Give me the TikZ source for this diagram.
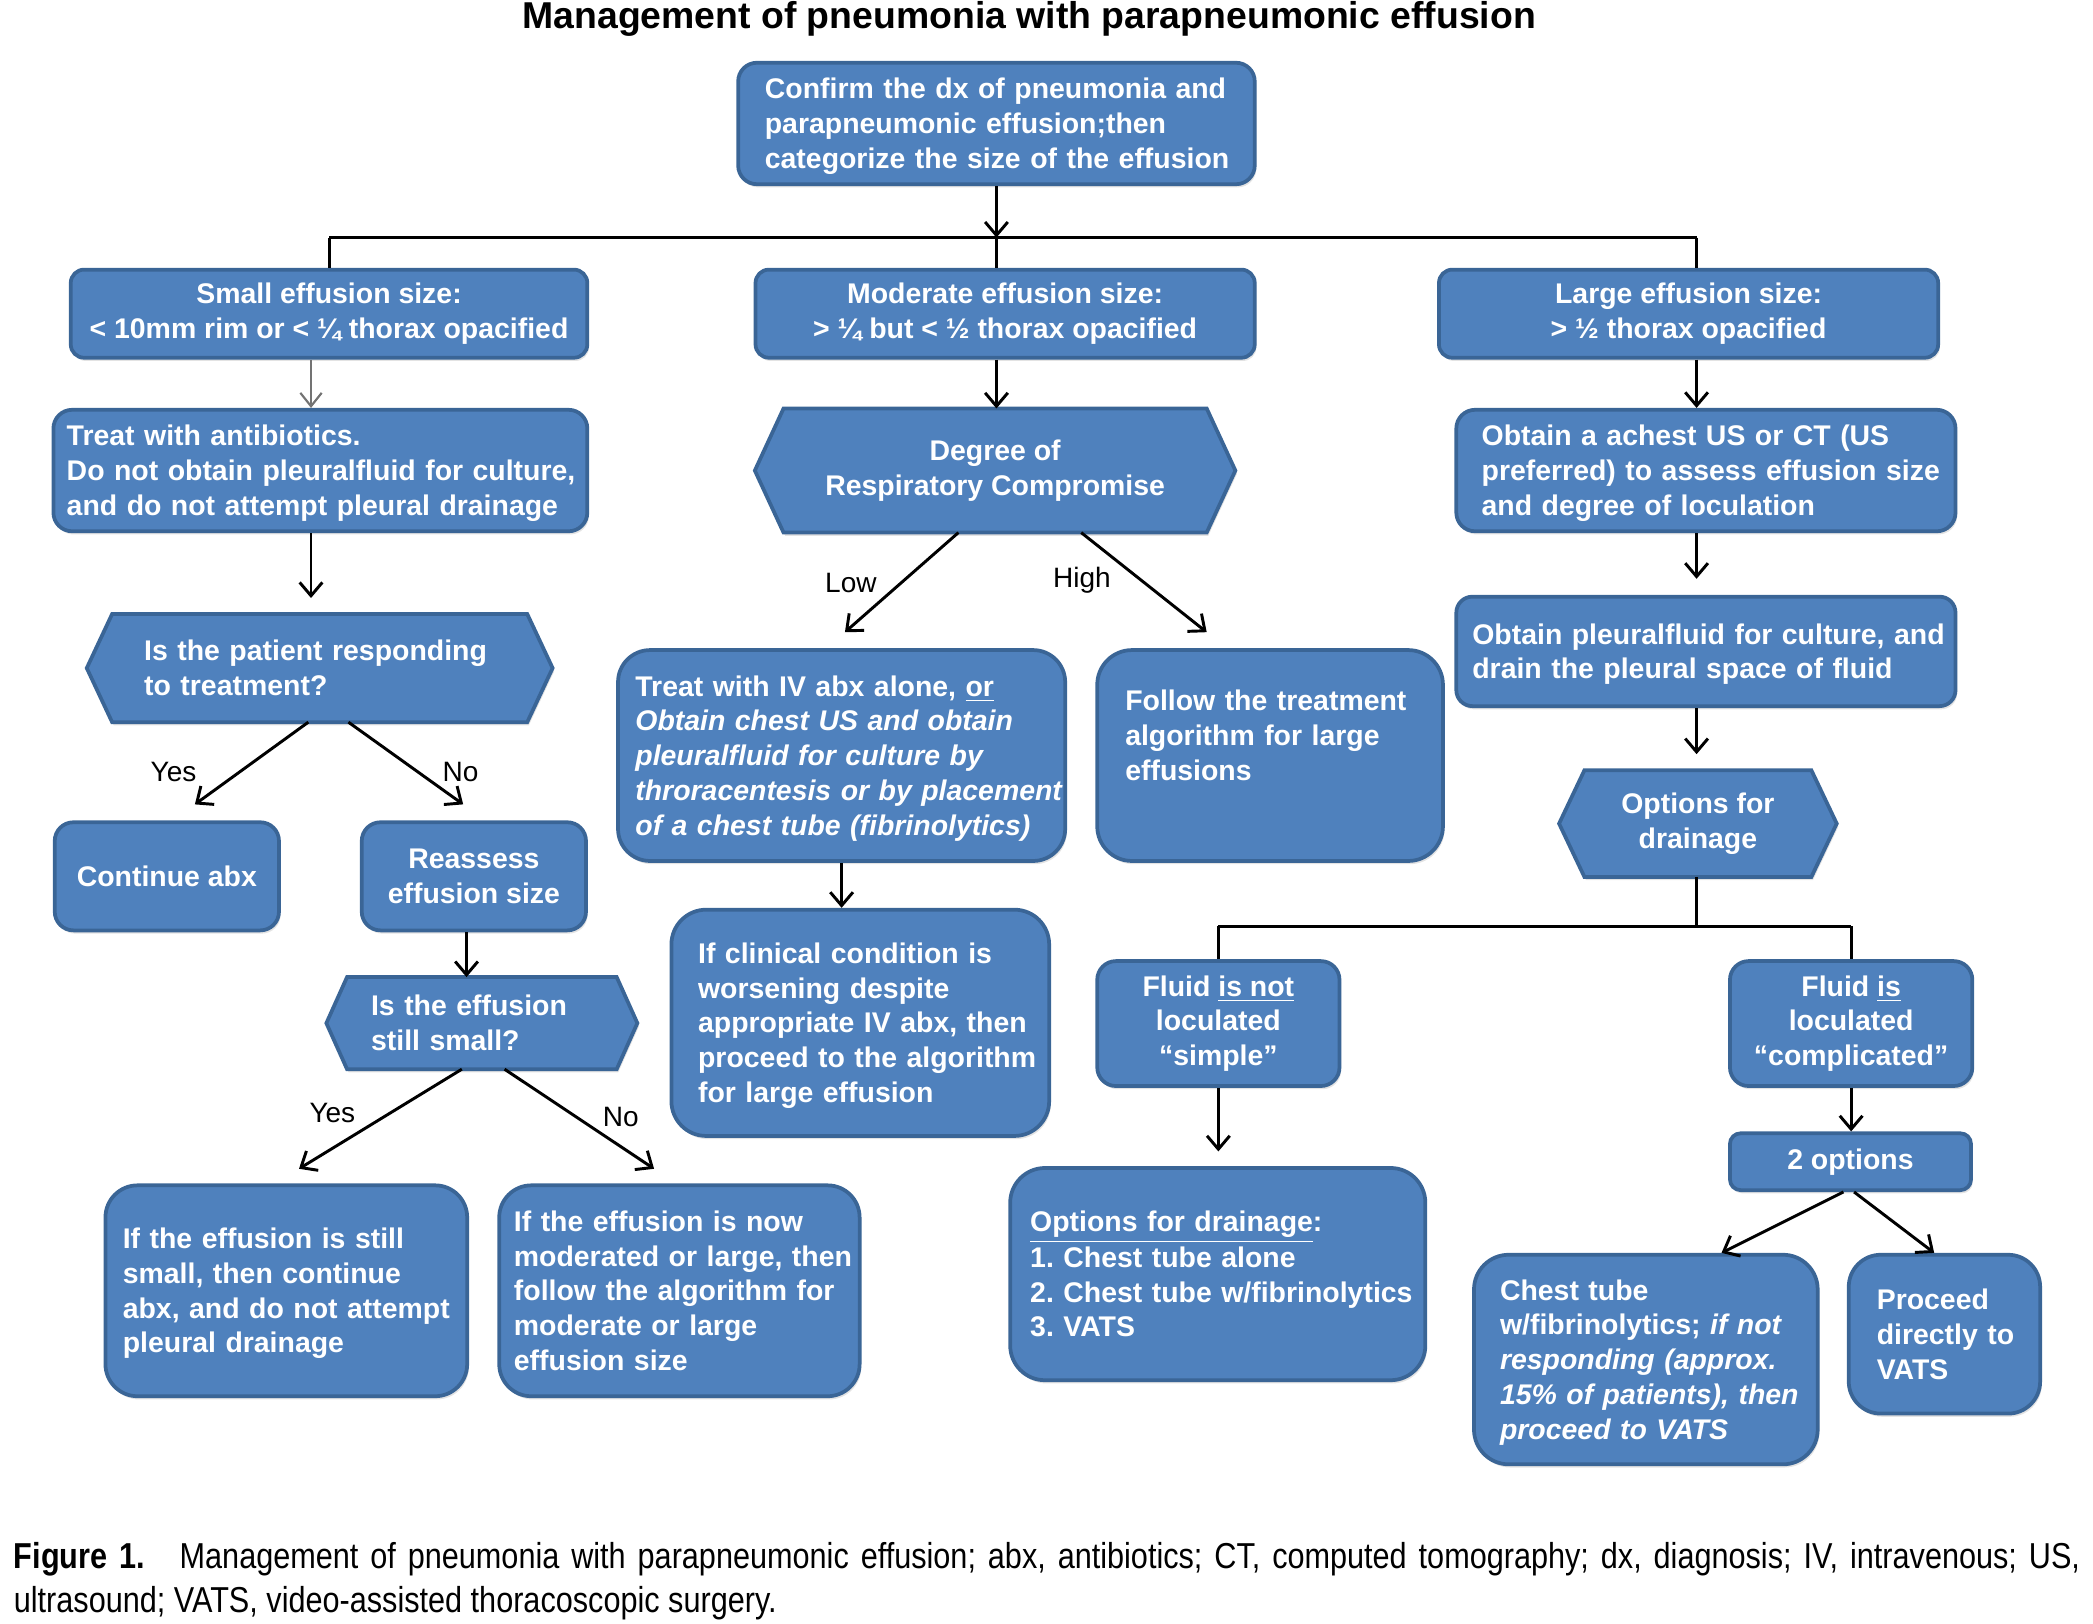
\documentclass[tikz,border=0pt]{standalone}
\usepackage{fontspec}
\setmainfont{Liberation Sans}
\newfontfamily\capfont[FakeStretch=0.85]{Liberation Sans}
\usetikzlibrary{arrows.meta,shadows}
\definecolor{boxfill}{HTML}{4F81BD}
\definecolor{boxline}{HTML}{3A6596}
\pgfdeclarelayer{bg}
\pgfsetlayers{bg,main}
\frenchspacing
\newcommand\LL[1]{\noindent\raisebox{-1.2pt}[\height][\depth]{\begin{tabular}{@{}l@{}}#1\end{tabular}}}
\newcommand\boxfont{\bfseries\fontsize{10.65}{13}\selectfont}
\newcommand\lblfont{\fontsize{10.5}{12}\selectfont}
\newcommand\hexbg[2]{\begin{pgfonlayer}{bg}\path[hexst] (#1.north west) -- (#1.north east) -- ([xshift=#2]#1.east) -- (#1.south east) -- (#1.south west) -- ([xshift=-#2]#1.west) -- cycle;\end{pgfonlayer}}
\begin{document}
\begin{tikzpicture}[x=0.5pt,y=-0.5pt,
  shad/.style={drop shadow={shadow xshift=0.6pt,shadow yshift=-1.2pt,opacity=0.22}},
  box/.style={draw=boxline, fill=boxfill, line width=1.4pt, text=white, font=\boxfont, inner sep=0pt, shad},
  sz/.style n args={3}{minimum width=#1, minimum height=#2, rounded corners=#3},
  lft/.style 2 args={align=left, text width=#1, inner xsep=#2},
  ctr/.style={align=center},
  hexn/.style={text=white, font=\boxfont, inner sep=0pt, outer sep=0pt},
  hexst/.style={draw=boxline, fill=boxfill, line width=1.4pt, shad},
  ln/.style={draw=black, line width=1.1pt},
  arr/.style={ln, -{Straight Barb[length=5pt,width=8.5pt]}},
  garr/.style={draw=black!55, line width=0.8pt, -{Straight Barb[length=5pt,width=8pt]}},
  lbl/.style={font=\lblfont, inner sep=0pt}
]
\useasboundingbox (0,0) rectangle (1568,1216);

% title
\node[font=\bfseries\fontsize{14}{16}\selectfont, anchor=base, inner sep=0pt] (title) at (771,21) {Management of pneumonia with parapneumonic effusion};

% row 1
\node[box, sz={193.5pt}{45.5pt}{7pt}, lft={173.5pt}{10pt}] (top) at (746.5,92.5)
  {\LL{Confirm the dx of pneumonia and\\parapneumonic effusion;then\\categorize the size of the effusion}};
\node[box, sz={193.5pt}{33pt}{5pt}, ctr] (small) at (246.5,235) {Small effusion size:\\< 10mm rim or < ¼ thorax opacified};
\node[box, sz={187pt}{33pt}{5pt}, ctr] (mod) at (753,235) {Moderate effusion size:\\> ¼ but < ½ thorax opacified};
\node[box, sz={187pt}{33pt}{5pt}, ctr] (large) at (1265,235) {Large effusion size:\\> ½ thorax opacified};

% row 2
\node[box, sz={200pt}{45.5pt}{7pt}, lft={190pt}{5pt}] (treat) at (240,352.5)
  {\LL{Treat with antibiotics.\\Do not obtain pleuralfluid for culture,\\and do not attempt pleural drainage}};
\node[hexn, minimum width=158.5pt, minimum height=46.5pt, ctr] (deg) at (745.5,352.5) {Degree of\\Respiratory Compromise};
\hexbg{deg}{10.75pt}
\node[box, sz={187pt}{45.5pt}{7pt}, lft={168pt}{9.5pt}] (obus) at (1278,352.5)
  {\LL{Obtain a achest US or CT (US\\preferred) to assess effusion size\\and degree of loculation}};

% left column
\node[hexn, minimum width=155.5pt, minimum height=40.5pt, lft={131.5pt}{12pt}] (resp) at (239.5,500.5)
  {\LL{Is the patient responding\\to treatment?}};
\hexbg{resp}{9.5pt}
\node[box, sz={84pt}{40.5pt}{7pt}, ctr] (contabx) at (125,656.5) {Continue abx};
\node[box, sz={84pt}{40.5pt}{7pt}, ctr] (reassess) at (355,656.5) {Reassess\\effusion size};
\node[hexn, minimum width=101pt, minimum height=34.5pt, lft={83pt}{9pt}] (small2) at (361,766.5)
  {\LL{Is the effusion\\still small?}};
\hexbg{small2}{7.75pt}
\node[box, sz={135.5pt}{79pt}{12pt}, lft={122.5pt}{6.5pt}] (ifstill) at (214.5,967)
  {\LL{If the effusion is still\\small, then continue\\abx, and do not attempt\\pleural drainage}};
\node[box, sz={135pt}{79pt}{12pt}, lft={124pt}{5.5pt}] (ifnow) at (509,967)
  {\LL{If the effusion is now\\moderated or large, then\\follow the algorithm for\\moderate or large\\effusion size}};

% middle column
\node[box, sz={167.5pt}{79pt}{12pt}, lft={154.5pt}{6.5pt}] (treativ) at (630.5,566)
  {\LL{Treat with IV abx alone, \underline{or}\\\textit{Obtain chest US and obtain}\\\textit{pleuralfluid for culture by}\\\textit{throracentesis or by placement}\\\textit{of a chest tube (fibrinolytics)}}};
\node[box, sz={141.5pt}{84.75pt}{13pt}, lft={121.5pt}{10pt}] (ifclin) at (644.5,766.25)
  {\LL{If clinical condition is\\worsening despite\\appropriate IV abx, then\\proceed to the algorithm\\for large effusion}};
\node[box, sz={129.5pt}{79pt}{13pt}, lft={108.5pt}{10.5pt}] (follow) at (951.5,566)
  {\LL{Follow the treatment\\algorithm for large\\effusions}\rule[-32pt]{0pt}{0pt}};

% right column
\node[box, sz={187pt}{41pt}{6pt}, lft={175pt}{6pt}] (obpf) at (1278,488)
  {\LL{Obtain pleuralfluid for culture, and\\drain the pleural space of fluid}};
\node[hexn, minimum width=85pt, minimum height=40pt, ctr] (options) at (1272,617) {Options for\\drainage};
\hexbg{options}{9.5pt}
\node[box, sz={90.75pt}{46.8pt}{7pt}, ctr] (simple) at (912.75,766.8) {Fluid \underline{is not}\\loculated\\“simple”};
\node[box, sz={90.8pt}{46.8pt}{7pt}, ctr] (complic) at (1386.8,766.8) {Fluid \underline{is}\\loculated\\“complicated”};
\node[box, sz={155.3pt}{79.5pt}{13pt}, lft={140.5pt}{7.5pt}] (optdrain) at (912.3,954.5)
  {\LL{\underline{Options for drainage}:\\1. Chest tube alone\\2. Chest tube w/fibrinolytics\\3. VATS}};
\node[box, sz={90.3pt}{21.3pt}{4pt}, ctr] (twoopt) at (1386.3,870.3) {2 options};
\node[box, sz={128.75pt}{78.5pt}{13pt}, lft={109.25pt}{9.75pt}] (chest) at (1233,1018.5)
  {\LL{Chest tube\\w/fibrinolytics; \textit{if not}\\\textit{responding (approx.}\\\textit{15\% of patients), then}\\\textit{proceed to VATS}}};
\node[box, sz={71.7pt}{59.5pt}{12pt}, lft={50.7pt}{10.5pt}] (proceed) at (1456.7,999.5)
  {\LL{Proceed\\directly to\\VATS}};

% connectors: top split
\coordinate (hm) at (top.south |- 0,178);
\coordinate (hl) at (small.north |- 0,178);
\coordinate (hr) at (1271,178);
\draw[arr] (top.south) -- (hm);
\draw[ln] (hl) -- (hr);
\draw[ln] (hl) -- (small.north);
\draw[ln] (hm) -- (hm |- mod.north);
\draw[ln] (hr) -- (hr |- large.north);

% small branch
\coordinate (a1) at ([xshift=-6.75pt]small.south);
\draw[garr] (a1) -- (a1 |- treat.north);
\coordinate (a2) at ([xshift=-3.5pt]treat.south);
\draw[arr, shorten >=6pt] (a2) -- (a2 |- resp.north);
\draw[arr] ([xshift=-4.25pt]resp.south) -- ([xshift=10.5pt,yshift=6pt]contabx.north);
\draw[arr] ([xshift=10.75pt]resp.south) -- ([xshift=-4pt,yshift=6pt]reassess.north);
\node[lbl] (lyes1) at (130,578) {Yes};
\node[lbl] (lno1) at (345,578) {No};
\coordinate (a3) at ([xshift=-2.75pt]reassess.south);
\draw[arr] (a3) -- (a3 |- small2.north);
\draw[arr] ([xshift=-7.5pt]small2.south) -- ([xshift=4.75pt,yshift=5.5pt]ifstill.north);
\draw[arr] ([xshift=8.5pt]small2.south) -- ([xshift=-9.5pt,yshift=5.5pt]ifnow.north);
\node[lbl] (lyes2) at (249,834) {Yes};
\node[lbl] (lno2) at (465,837) {No};

% moderate branch
\draw[arr] (hm |- mod.south) -- (hm |- deg.north);
\draw[arr] ([xshift=-13.75pt]deg.south) -- ([xshift=1.25pt,yshift=6pt]treativ.north);
\draw[arr] ([xshift=32.25pt]deg.south) -- ([xshift=-23.75pt,yshift=6pt]follow.north);
\node[lbl] (llow) at (637.5,437) {Low};
\node[lbl] (lhigh) at (810.6,434.6) {High};
\draw[arr] (treativ.south) -- (treativ.south |- ifclin.north);

% large branch
\draw[arr] (hr |- large.south) -- (hr |- obus.north);
\draw[arr, shorten >=6pt] (hr |- obus.south) -- (hr |- obpf.north);
\draw[arr, shorten >=6pt] (hr |- obpf.south) -- (hr |- options.north);
\coordinate (bl) at (simple.north |- 0,694);
\coordinate (br) at (complic.north |- 0,694);
\draw[ln] (hr |- options.south) -- (hr |- bl);
\draw[ln] (bl) -- (br);
\draw[ln] (bl) -- (simple.north);
\draw[ln] (br) -- (complic.north);
\draw[arr, shorten >=5.5pt] (simple.south) -- (simple.south |- optdrain.north);
\draw[arr] (complic.south) -- (complic.south |- twoopt.north);
\draw[arr] ([xshift=-2.65pt]twoopt.south) -- ([xshift=28.35pt]chest.north);
\draw[arr] ([xshift=1.35pt]twoopt.south) -- ([xshift=-3.85pt]proceed.north);

% caption
\node[anchor=north west, text width=774pt, align=justify, inner sep=0pt, font=\capfont\fontsize{13.5}{16.5}\selectfont] (cap) at (10,1155)
  {\textbf{Figure 1.}\hspace{13pt}Management of pneumonia with parapneumonic effusion; abx, antibiotics; CT, computed tomography; dx, diagnosis; IV, intravenous; US,\linebreak ultrasound; VATS, video-assisted thoracoscopic surgery.};
\end{tikzpicture}
\end{document}
